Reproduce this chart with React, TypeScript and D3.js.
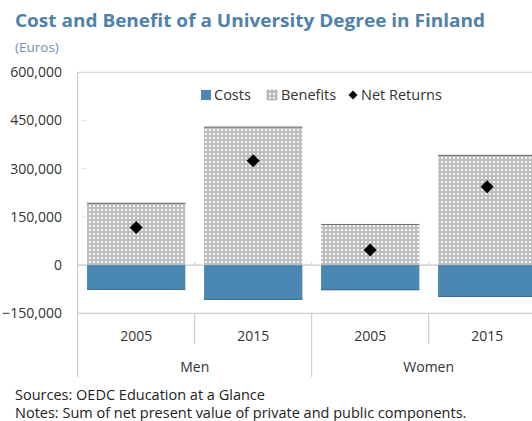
import React from "react";
import * as d3 from "d3";

const groups = ["Men", "Women"];
const years = ["2005", "2015"];
const categories = ["Men 2005", "Men 2015", "Women 2005", "Women 2015"];
const costs = [-77000, -108000, -78000, -99000];
const benefits = [194000, 431000, 128000, 343000];
const netReturns = [117000, 325000, 47000, 244000];
const yTicks = [-150000, 0, 150000, 300000, 450000, 600000];

const W = 532;
const H = 421;
const FONT = "'Open Sans', 'Noto Sans', sans-serif";

export default function App() {
  const left = 77.7;
  const bandW = 117;
  const x = d3
    .scaleBand<string>()
    .domain(categories)
    .range([left, left + bandW * categories.length])
    .paddingInner(0.16)
    .paddingOuter(0.08);
  const y = d3.scaleLinear().domain([-150000, 600000]).range([313.3, 72.3]);
  const fmt = d3.format(",");
  const plotRight = left + bandW * categories.length;
  const y0 = y(0);
  const yb = y(-150000);
  const bw = x.bandwidth();

  const diamondPath = (s: number) => {
    const h = s / 2;
    return `M0,${-h}L${h},0L0,${h}L${-h},0Z`;
  };

  return (
    <svg
      width={W}
      height={H}
      style={{ position: "absolute", left: 0, top: 0, background: "#fff" }}
      fontFamily={FONT}
    >
      <defs>
        <pattern id="benef" width={4} height={4} patternUnits="userSpaceOnUse">
          <rect width={4} height={4} fill="#bdbdbd" />
          <rect x={1} y={1} width={2} height={2} fill="#f4f4f4" />
        </pattern>
      </defs>
      <text x={15} y={27} fontSize={17} fontWeight={700} fill="#4e81ab" textLength={470} lengthAdjust="spacingAndGlyphs">
        Cost and Benefit of a University Degree in Finland
      </text>
      <text x={15} y={47} dy="0.35em" fontSize={13.5} fill="#7390b0">
        (Euros)
      </text>

      {/* plot border */}
      <line x1={left} x2={plotRight} y1={72.3} y2={72.3} stroke="#cfcfcf" />
      <line x1={left} x2={plotRight} y1={yb} y2={yb} stroke="#c4c4c4" />
      <line x1={left} x2={left} y1={72.3} y2={377} stroke="#c4c4c4" />

      {/* y tick labels */}
      {yTicks.map((t) => (
        <g key={t}>
          <text x={62} y={y(t)} dy="0.35em" textAnchor="end" fontSize={14} fill="#333">
            {fmt(t)}
          </text>
          {t !== 0 && t !== 600000 && t !== -150000 && (
            <line x1={left + 4} x2={left + 9} y1={y(t)} y2={y(t)} stroke="#e6e6e6" />
          )}
        </g>
      ))}

      {/* zero line */}
      <line x1={left} x2={plotRight} y1={y0} y2={y0} stroke="#c8c8c8" strokeWidth={1.2} />
      {categories.map((c, i) => (
        <line key={"zt" + c} x1={left + bandW * i} x2={left + bandW * i} y1={y0 - 3} y2={y0} stroke="#c8c8c8" />
      ))}

      {/* bars */}
      {categories.map((c, i) => (
        <g key={c}>
          <rect
            x={x(c)}
            y={y(benefits[i])}
            width={bw}
            height={y0 - y(benefits[i])}
            fill="url(#benef)"
          />
          <line x1={x(c)} x2={(x(c) as number) + bw} y1={y(benefits[i]) + 0.5} y2={y(benefits[i]) + 0.5} stroke="#707070" />
          <rect
            x={x(c)}
            y={y0}
            width={bw}
            height={y(costs[i]) - y0}
            fill="#4a87b2"
          />
          <line x1={x(c)} x2={(x(c) as number) + bw} y1={y(costs[i]) - 0.5} y2={y(costs[i]) - 0.5} stroke="#3a6a8c" />
        </g>
      ))}

      {/* net returns */}
      {categories.map((c, i) => (
        <path
          key={"n" + c}
          d={diamondPath(13)}
          transform={`translate(${(x(c) as number) + bw / 2},${y(netReturns[i])})`}
          fill="#000"
        />
      ))}

      {/* legend */}
      <rect x={201} y={90} width={10} height={10} fill="#4a87b2" />
      <text x={214} y={95} dy="0.35em" fontSize={14.5} fill="#333">Costs</text>
      <rect x={267} y={90} width={10} height={10} fill="url(#benef)" stroke="#999" strokeWidth={0.5} />
      <text x={281} y={95} dy="0.35em" fontSize={14.5} fill="#333">Benefits</text>
      <path d={diamondPath(9)} transform="translate(353,95)" fill="#000" />
      <text x={361} y={95} dy="0.35em" fontSize={14.5} fill="#333">Net Returns</text>

      {/* category axis */}
      {categories.map((c, i) => (
        <g key={"ax" + c}>
          {i > 0 && (
            <line
              x1={left + bandW * i}
              x2={left + bandW * i}
              y1={yb}
              y2={i % 2 === 0 ? 377 : 344}
              stroke="#c4c4c4"
            />
          )}
          <text x={(x(c) as number) + bw / 2} y={336} dy="0.35em" textAnchor="middle" fontSize={14} fill="#333">
            {years[i % 2]}
          </text>
        </g>
      ))}
      {groups.map((g, gi) => (
        <text
          key={g}
          x={left + bandW * (gi * 2 + 1)}
          y={367}
          dy="0.35em"
          textAnchor="middle"
          fontSize={14}
          fill="#333"
        >
          {g}
        </text>
      ))}

      {/* footer */}
      <text x={15} y={395} dy="0.35em" fontSize={14.5} fill="#222">
        Sources: OEDC Education at a Glance
      </text>
      <text x={15} y={413} dy="0.35em" fontSize={14.5} fill="#222">
        Notes: Sum of net present value of private and public components.
      </text>
    </svg>
  );
}
